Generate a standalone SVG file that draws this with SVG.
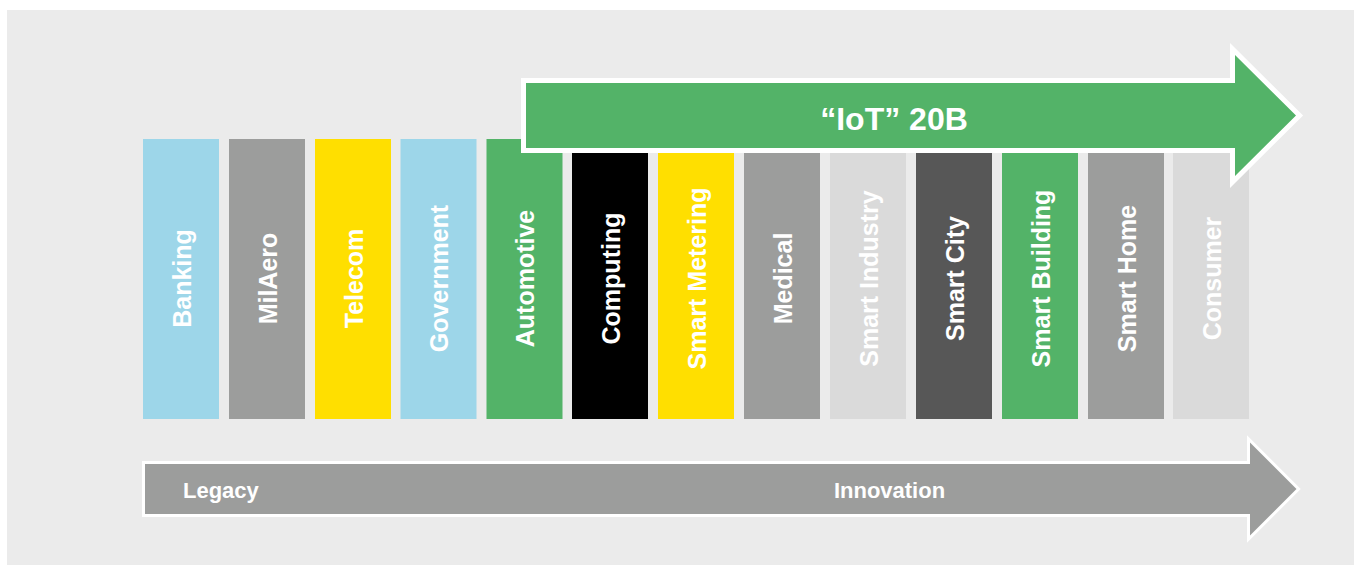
<svg xmlns="http://www.w3.org/2000/svg" width="1357" height="565" viewBox="0 0 1357 565">
  <style>
    .bar { stroke: none; }
    .blue { fill: #9dd6e9; }
    .gray { fill: #9c9d9c; }
    .yellow { fill: #ffdf00; }
    .green { fill: #53b368; }
    .black { fill: #000000; }
    .light { fill: #dadada; }
    .dark { fill: #575757; }
    .label { font-family: "Liberation Sans", Arial, sans-serif; font-weight: bold; font-size: 25px; fill: #ffffff; text-anchor: middle; }
    .arrow { stroke: #ffffff; stroke-linejoin: miter; stroke-miterlimit: 10; paint-order: stroke; }
    .title { font-family: "Liberation Sans", Arial, sans-serif; font-weight: bold; font-size: 32px; fill: #ffffff; text-anchor: middle; }
    .axis { font-family: "Liberation Sans", Arial, sans-serif; font-weight: bold; font-size: 22px; fill: #ffffff; }
  </style>

  <!-- panel background -->
  <rect x="7" y="10" width="1347" height="555" fill="#ebebeb"/>

  <!-- sector columns -->
  <g id="banking"><rect class="bar blue" x="143" y="139" width="76" height="280"/><text class="label" transform="translate(190.5,278.5) rotate(-90)">Banking</text></g>
  <g id="milaero"><rect class="bar gray" x="229" y="139" width="76" height="280"/><text class="label" transform="translate(276.5,278.5) rotate(-90)">MilAero</text></g>
  <g id="telecom"><rect class="bar yellow" x="315" y="139" width="76" height="280"/><text class="label" transform="translate(362.5,278.5) rotate(-90)">Telecom</text></g>
  <g id="government"><rect class="bar blue" x="400.5" y="139" width="76" height="280"/><text class="label" transform="translate(448,278.5) rotate(-90)">Government</text></g>
  <g id="automotive"><rect class="bar green" x="486.5" y="139" width="76" height="280"/><text class="label" transform="translate(534,278.5) rotate(-90)">Automotive</text></g>
  <g id="computing"><rect class="bar black" x="572" y="139" width="76" height="280"/><text class="label" transform="translate(619.5,278.5) rotate(-90)">Computing</text></g>
  <g id="smart-metering"><rect class="bar yellow" x="658" y="139" width="76" height="280"/><text class="label" transform="translate(705.5,278.5) rotate(-90)">Smart Metering</text></g>
  <g id="medical"><rect class="bar gray" x="744" y="139" width="76" height="280"/><text class="label" transform="translate(791.5,278.5) rotate(-90)">Medical</text></g>
  <g id="smart-industry"><rect class="bar light" x="830" y="139" width="76" height="280"/><text class="label" transform="translate(877.5,278.5) rotate(-90)">Smart Industry</text></g>
  <g id="smart-city"><rect class="bar dark" x="916" y="139" width="76" height="280"/><text class="label" transform="translate(963.5,278.5) rotate(-90)">Smart City</text></g>
  <g id="smart-building"><rect class="bar green" x="1002" y="139" width="76" height="280"/><text class="label" transform="translate(1049.5,278.5) rotate(-90)">Smart Building</text></g>
  <g id="smart-home"><rect class="bar gray" x="1088" y="139" width="76" height="280"/><text class="label" transform="translate(1135.5,278.5) rotate(-90)">Smart Home</text></g>
  <g id="consumer"><rect class="bar light" x="1173" y="139" width="76" height="280"/><text class="label" transform="translate(1220.5,278.5) rotate(-90)">Consumer</text></g>

  <!-- block arrows -->
  <g id="connectors">
    <g id="iot-arrow">
      <polygon class="arrow green" stroke-width="10" points="526,83 1235,83 1235,55 1296,115.5 1235,176 1235,148 526,148"/>
      <text class="title" x="894" y="129.5">“IoT” 20B</text>
    </g>
    <g id="timeline-arrow">
      <polygon class="arrow gray" stroke-width="6" points="145,464 1250,464 1250,442.5 1296.5,489 1250,535.5 1250,514 145,514"/>
      <text class="axis" x="183" y="498">Legacy</text>
      <text class="axis" x="889.5" y="497.5" text-anchor="middle">Innovation</text>
    </g>
  </g>
</svg>
